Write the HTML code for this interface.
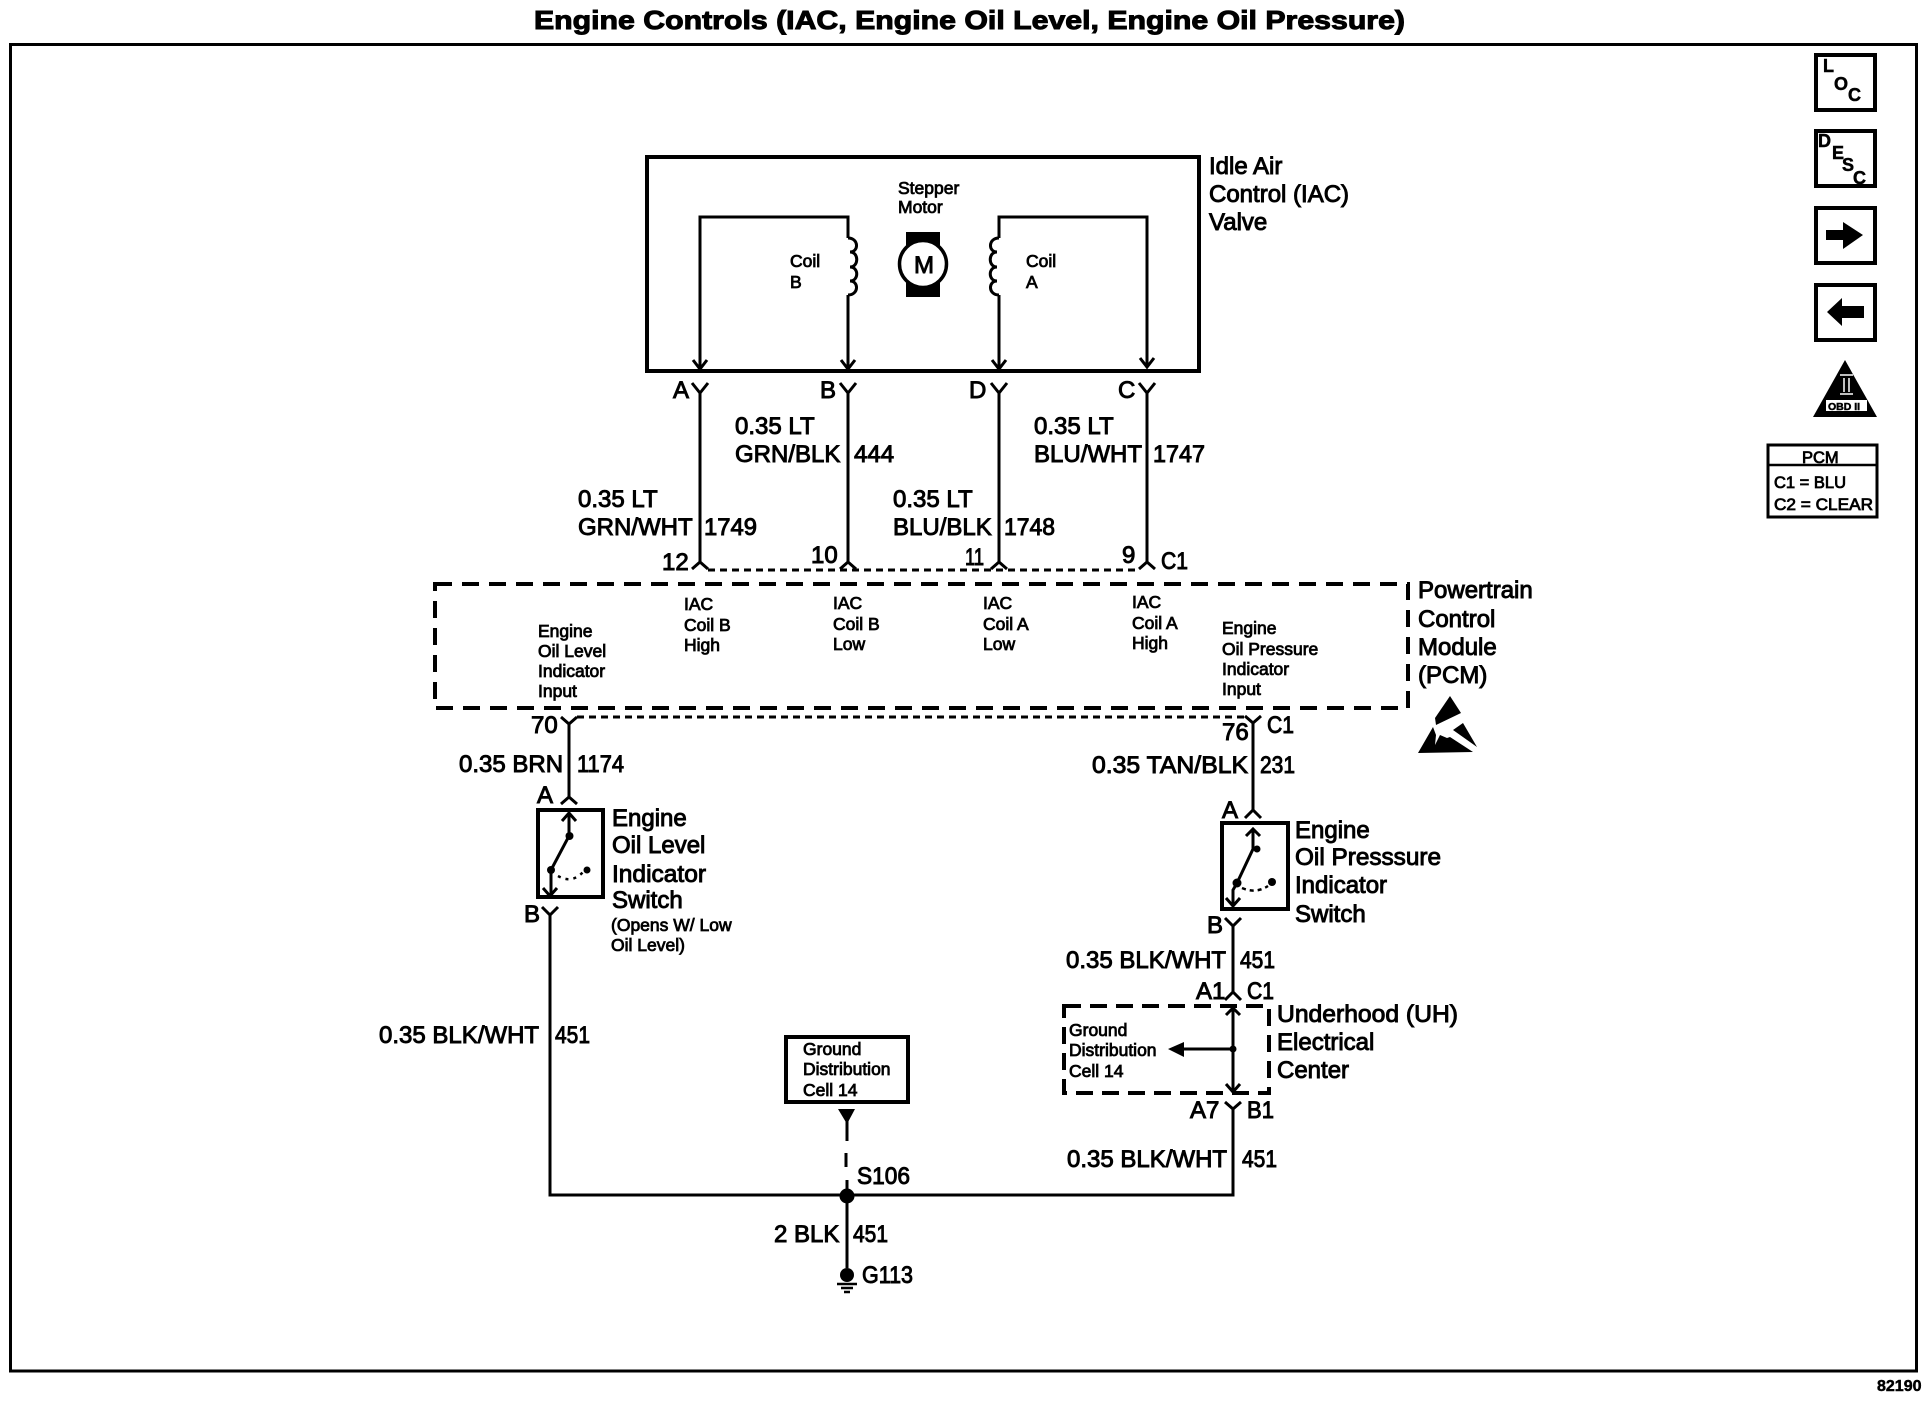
<!DOCTYPE html>
<html><head><meta charset="utf-8"><style>
html,body{margin:0;padding:0;background:#fff}
svg{display:block}
text{font-family:"Liberation Sans",sans-serif;fill:#000;stroke:#000}
.t{font-size:24px;stroke-width:.95px}
.s{font-size:17.5px;stroke-width:.8px}
.b{font-weight:bold;stroke-width:.5px}
.w{fill:none;stroke:#000;stroke-width:3;stroke-linejoin:miter}
.k{fill:none;stroke:#000;stroke-width:4}
</style></head><body>
<svg width="1926" height="1408" viewBox="0 0 1926 1408" xmlns="http://www.w3.org/2000/svg">
<rect width="1926" height="1408" fill="#fff"/>
<text class="b" x="534" y="29" font-size="26" textLength="871" lengthAdjust="spacingAndGlyphs" style="stroke-width:1px">Engine Controls (IAC, Engine Oil Level, Engine Oil Pressure)</text>
<rect x="10.500" y="44.500" width="1906" height="1326.500" fill="none" stroke="#000" stroke-width="3"/>
<text class="b" x="1877" y="1391" font-size="16">82190</text>

<!-- IAC -->
<rect x="647" y="157" width="552" height="214" class="k"/>
<path class="w" d="M700 368V217H848V238M848 295V368M999 368V295M999 238V217H1147V366"/>
<path class="w" d="M848 238c11 0 11 14 2 14c9 0 9 15 0 15c9 0 9 14 0 14c9 0 9 14 -2 14"/>
<path class="w" d="M999 238c-11 0 -11 14 -2 14c-9 0 -9 15 0 15c-9 0 -9 14 0 14c-9 0 -9 14 2 14"/>
<path class="w" d="M693 360l7 9l7 -9M841 360l7 9l7 -9M992 360l7 9l7 -9M1140 358l7 9l7 -9"/>
<rect x="906" y="232" width="34" height="65" fill="#000"/>
<circle cx="923" cy="264" r="23.500" fill="#fff" stroke="#000" stroke-width="3.500"/>
<text class="t" x="914" y="273">M</text>
<text class="s" x="898" y="194">Stepper</text><text class="s" x="898" y="213">Motor</text>
<text class="s" x="790" y="267">Coil</text><text class="s" x="790" y="288">B</text>
<text class="s" x="1026" y="267">Coil</text><text class="s" x="1026" y="288">A</text>
<text class="t" x="1209" y="174">Idle Air</text><text class="t" x="1209" y="202">Control (IAC)</text><text class="t" x="1209" y="230">Valve</text>

<!-- upper wires -->
<path class="w" d="M692 383l8 10l8 -10M700 393V562M692 569l8 -7l8 7"/>
<path class="w" d="M840 383l8 10l8 -10M848 393V562M840 569l8 -7l8 7"/>
<path class="w" d="M991 383l8 10l8 -10M999 393V562M991 569l8 -7l8 7"/>
<path class="w" d="M1139 383l8 10l8 -10M1147 393V562M1139 569l8 -7l8 7"/>
<path d="M708 570H1139" fill="none" stroke="#000" stroke-width="3" stroke-dasharray="7 5"/>
<text class="t" x="673" y="398">A</text><text class="t" x="820" y="398">B</text><text class="t" x="969" y="398">D</text><text class="t" x="1118" y="398">C</text>
<text class="t" x="735" y="434">0.35 LT</text><text class="t" x="735" y="462">GRN/BLK</text><text class="t" x="854" y="462">444</text>
<text class="t" x="1034" y="434">0.35 LT</text><text class="t" x="1034" y="462">BLU/WHT</text><text class="t" x="1153" y="462" textLength="52" lengthAdjust="spacingAndGlyphs">1747</text>
<text class="t" x="578" y="507">0.35 LT</text><text class="t" x="578" y="535">GRN/WHT</text><text class="t" x="704" y="535" textLength="53" lengthAdjust="spacingAndGlyphs">1749</text>
<text class="t" x="893" y="507">0.35 LT</text><text class="t" x="893" y="535">BLU/BLK</text><text class="t" x="1004" y="535" textLength="51" lengthAdjust="spacingAndGlyphs">1748</text>
<text class="t" x="662" y="570">12</text><text class="t" x="811" y="563">10</text><text class="t" x="965" y="565" textLength="19" lengthAdjust="spacingAndGlyphs">11</text><text class="t" x="1122" y="563">9</text><text class="t" x="1161" y="569" textLength="27" lengthAdjust="spacingAndGlyphs">C1</text>

<!-- PCM -->
<rect x="435" y="584" width="973" height="124" fill="none" stroke="#000" stroke-width="4" stroke-dasharray="17 10"/>
<text class="s" x="538" y="637">Engine</text><text class="s" x="538" y="657">Oil Level</text><text class="s" x="538" y="677">Indicator</text><text class="s" x="538" y="697">Input</text>
<text class="s" x="684" y="610">IAC</text><text class="s" x="684" y="631">Coil B</text><text class="s" x="684" y="651">High</text>
<text class="s" x="833" y="609">IAC</text><text class="s" x="833" y="630">Coil B</text><text class="s" x="833" y="650">Low</text>
<text class="s" x="983" y="609">IAC</text><text class="s" x="983" y="630">Coil A</text><text class="s" x="983" y="650">Low</text>
<text class="s" x="1132" y="608">IAC</text><text class="s" x="1132" y="629">Coil A</text><text class="s" x="1132" y="649">High</text>
<text class="s" x="1222" y="634">Engine</text><text class="s" x="1222" y="655">Oil Pressure</text><text class="s" x="1222" y="675">Indicator</text><text class="s" x="1222" y="695">Input</text>
<text class="t" x="1418" y="598">Powertrain</text><text class="t" x="1418" y="627">Control</text><text class="t" x="1418" y="655">Module</text><text class="t" x="1418" y="683">(PCM)</text>
<path d="M1450 696L1461 713L1436 725L1435 718Z" fill="#000"/>
<path d="M1418 753L1433 727L1436 735L1435 745L1440 735L1447 738L1450 737L1473 752Z" fill="#000"/>
<path d="M1453 730L1463 723L1477 747Z" fill="#000"/>

<path d="M577 717H1245" fill="none" stroke="#000" stroke-width="3" stroke-dasharray="7 5"/>

<!-- oil level -->
<path class="w" d="M561 717l8 7l8 -7M569 724V797M561 804l8 -7l8 7"/>
<text class="t" x="531" y="733">70</text><text class="t" x="459" y="772">0.35 BRN</text><text class="t" x="577" y="772" textLength="47" lengthAdjust="spacingAndGlyphs">1174</text><text class="t" x="537" y="803">A</text>
<rect x="538" y="810" width="65" height="87" fill="none" stroke="#000" stroke-width="4"/>
<path class="w" d="M569 813V836L551 870V895M562 821l7 -8l7 8M543 888l7 8l7 -8"/>
<circle cx="569.500" cy="836" r="4"/><circle cx="551" cy="870" r="4"/><circle cx="587" cy="870" r="3.500"/>
<path d="M558 876q14 8 25 -4" fill="none" stroke="#000" stroke-width="2.500" stroke-dasharray="3 5"/>
<path class="w" d="M542 907l8 8l8 -8M550 915V1195H1233V1108M1225 1102l8 7l8 -7"/>
<text class="t" x="524" y="922">B</text>
<text class="t" x="612" y="826">Engine</text><text class="t" x="612" y="853">Oil Level</text><text class="t" x="612" y="882" textLength="94" lengthAdjust="spacingAndGlyphs">Indicator</text><text class="t" x="612" y="908">Switch</text>
<text class="s" x="611" y="931">(Opens W/ Low</text><text class="s" x="611" y="951">Oil Level)</text>
<text class="t" x="379" y="1043">0.35 BLK/WHT</text><text class="t" x="555" y="1043" textLength="35" lengthAdjust="spacingAndGlyphs">451</text>

<!-- oil pressure -->
<path class="w" d="M1245 716l8 7l8 -7M1253 723V810M1245 818l8 -8l8 8"/>
<text class="t" x="1222" y="740">76</text><text class="t" x="1267" y="733" textLength="27" lengthAdjust="spacingAndGlyphs">C1</text><text class="t" x="1092" y="773" textLength="156" lengthAdjust="spacingAndGlyphs">0.35 TAN/BLK</text><text class="t" x="1260" y="773" textLength="35" lengthAdjust="spacingAndGlyphs">231</text><text class="t" x="1222" y="818">A</text>
<rect x="1222" y="823" width="66" height="86" fill="none" stroke="#000" stroke-width="4"/>
<path class="w" d="M1253 829V849L1237 883L1233 890V905M1246 836l7 -7l7 7M1226 898l7 8l7 -8"/>
<circle cx="1257" cy="849" r="3.500"/><circle cx="1237" cy="883" r="4.500"/><circle cx="1272" cy="882" r="4"/>
<path d="M1242 888q14 6 26 -2" fill="none" stroke="#000" stroke-width="2.500" stroke-dasharray="4 4"/>
<text class="t" x="1295" y="838">Engine</text><text class="t" x="1295" y="865" textLength="146" lengthAdjust="spacingAndGlyphs">Oil Presssure</text><text class="t" x="1295" y="893">Indicator</text><text class="t" x="1295" y="922">Switch</text>
<path class="w" d="M1225 918l8 8l8 -8M1233 926V992M1225 1000l8 -8l8 8"/>
<text class="t" x="1207" y="933">B</text>
<text class="t" x="1066" y="968">0.35 BLK/WHT</text><text class="t" x="1240" y="968" textLength="35" lengthAdjust="spacingAndGlyphs">451</text>
<text class="t" x="1196" y="999">A1</text><text class="t" x="1247" y="999" textLength="27" lengthAdjust="spacingAndGlyphs">C1</text>

<!-- UH center -->
<rect x="1064" y="1006" width="205" height="87" fill="none" stroke="#000" stroke-width="4" stroke-dasharray="17 9"/>
<path class="w" d="M1233 1008V1091M1226 1015l7 -7l7 7M1226 1084l7 8l7 -8M1233 1049H1178"/>
<path d="M1168 1049L1184 1042V1057Z" fill="#000"/>
<circle cx="1233" cy="1049" r="3.500"/>
<text class="s" x="1069" y="1036">Ground</text><text class="s" x="1069" y="1056">Distribution</text><text class="s" x="1069" y="1077">Cell 14</text>
<text class="t" x="1277" y="1022" textLength="181" lengthAdjust="spacingAndGlyphs">Underhood (UH)</text><text class="t" x="1277" y="1050">Electrical</text><text class="t" x="1277" y="1078">Center</text>
<text class="t" x="1190" y="1118">A7</text><text class="t" x="1247" y="1118" textLength="27" lengthAdjust="spacingAndGlyphs">B1</text>
<text class="t" x="1067" y="1167">0.35 BLK/WHT</text><text class="t" x="1242" y="1167" textLength="35" lengthAdjust="spacingAndGlyphs">451</text>

<!-- ground -->
<rect x="786" y="1037" width="122" height="65" fill="none" stroke="#000" stroke-width="4"/>
<text class="s" x="803" y="1055">Ground</text><text class="s" x="803" y="1075">Distribution</text><text class="s" x="803" y="1096">Cell 14</text>
<path d="M838 1109H855L847 1124Z" fill="#000"/>
<path class="w" d="M847 1120V1141M846 1153V1167M847 1180V1268"/>
<circle cx="847" cy="1196" r="7.500"/><circle cx="847" cy="1275" r="7"/>
<path d="M837 1284H857M841 1288H853M844 1292H850" stroke="#000" stroke-width="2.500" fill="none"/>
<text class="t" x="857" y="1184" textLength="53" lengthAdjust="spacingAndGlyphs">S106</text><text class="t" x="774" y="1242">2 BLK</text><text class="t" x="853" y="1242" textLength="35" lengthAdjust="spacingAndGlyphs">451</text><text class="t" x="862" y="1283" textLength="51" lengthAdjust="spacingAndGlyphs">G113</text>

<!-- sidebar -->
<g fill="none" stroke="#000" stroke-width="4">
<rect x="1816" y="55" width="59" height="55"/><rect x="1816" y="131" width="59" height="55"/><rect x="1816" y="208" width="59" height="55"/><rect x="1816" y="285" width="59" height="55"/>
</g>
<g font-size="18">
<text class="b" x="1823" y="72">L</text><text class="b" x="1834" y="90">O</text><text class="b" x="1848" y="101">C</text>
<text class="b" x="1818" y="147">D</text><text class="b" x="1832" y="159">E</text><text class="b" x="1842" y="171">S</text><text class="b" x="1853" y="184">C</text>
</g>
<path d="M1826 230H1843V222L1863 235L1843 249V240H1826Z" fill="#000"/>
<path d="M1864 306H1842V298L1827 312L1842 326V318H1864Z" fill="#000"/>
<path d="M1845 360L1877 417H1813Z" fill="#000"/>
<path d="M1844 378V392M1849 378V392M1840 375H1853M1840 394H1853" stroke="#fff" stroke-width="1.500" fill="none"/>
<rect x="1826" y="400" width="41" height="11" fill="#fff"/>
<text class="b" x="1828" y="410" font-size="10.500">OBD II</text>
<rect x="1768" y="445" width="109" height="72" fill="none" stroke="#000" stroke-width="3"/>
<path d="M1768 465H1877" stroke="#000" stroke-width="2.500"/>
<text class="s" x="1802" y="463" style="font-size:16.500px">PCM</text>
<text class="s" x="1774" y="488" style="font-size:16.500px">C1 = BLU</text>
<text class="s" x="1774" y="510" style="font-size:16.500px" textLength="99" lengthAdjust="spacingAndGlyphs">C2 = CLEAR</text>
</svg>
</body></html>
